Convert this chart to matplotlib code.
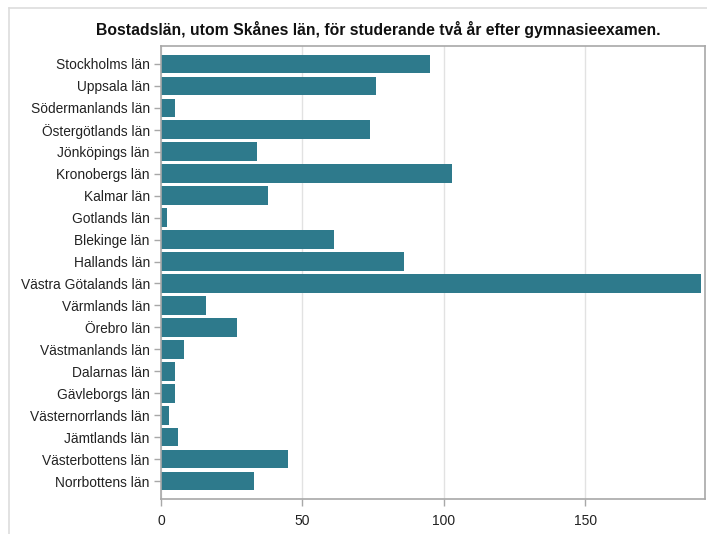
import matplotlib.pyplot as plt
from matplotlib.lines import Line2D

plt.rcParams['font.family'] = ['Liberation Sans', 'DejaVu Sans']

## Data
lan = ["Stockholms län", "Uppsala län", "Södermanlands län", "Östergötlands län",
       "Jönköpings län", "Kronobergs län", "Kalmar län", "Gotlands län",
       "Blekinge län", "Hallands län", "Västra Götalands län", "Värmlands län",
       "Örebro län", "Västmanlands län", "Dalarnas län", "Gävleborgs län",
       "Västernorrlands län", "Jämtlands län", "Västerbottens län", "Norrbottens län"]
antal = [95, 76, 5, 74, 34, 103, 38, 2, 61, 86, 191, 16, 27, 8, 5, 5, 3, 6, 45, 33]
xticks = [0, 50, 100, 150]

bar_color = "#2e7a8c"
edge = "#a8a8a8"

fig = plt.figure(figsize=(7.07, 5.34), dpi=100)
ax = fig.add_axes([0.2277, 0.0655, 0.7695, 0.8484])

pos = list(range(len(lan)))
ax.barh(pos, antal, height=0.85, color=bar_color, zorder=2)

ax.set_ylim(len(lan) - 1 + 0.82, -0.82)
ax.set_xlim(0, 192.3)
ax.set_yticks(pos)
ax.set_yticklabels(lan, fontsize=9.9, color="#222222")
ax.set_xticks(xticks)
ax.set_xticklabels([str(t) for t in xticks], fontsize=10, color="#222222")
ax.tick_params(axis='both', length=5, width=1, color=edge)
ax.tick_params(axis='x', pad=6)
ax.tick_params(axis='y', pad=3)

ax.grid(axis='x', color="#e2e2e2", linewidth=1, zorder=0)
ax.set_axisbelow(True)
for s in ax.spines.values():
    s.set_color(edge)
    s.set_linewidth(1.2)

fig.text(0.535, 1 - 30 / 534,
         "Bostadslän, utom Skånes län, för studerande två år efter gymnasieexamen.",
         ha='center', va='center', fontsize=11.3, fontweight='bold', color="#111111")

## light frame lines along top and left of the figure
fig.add_artist(Line2D([9 / 707, 1], [1 - 8 / 534, 1 - 8 / 534], color="#dddddd", lw=1.2))
fig.add_artist(Line2D([9 / 707, 9 / 707], [0, 1 - 8 / 534], color="#dddddd", lw=1.2))

fig.savefig("out.png", dpi=100)
